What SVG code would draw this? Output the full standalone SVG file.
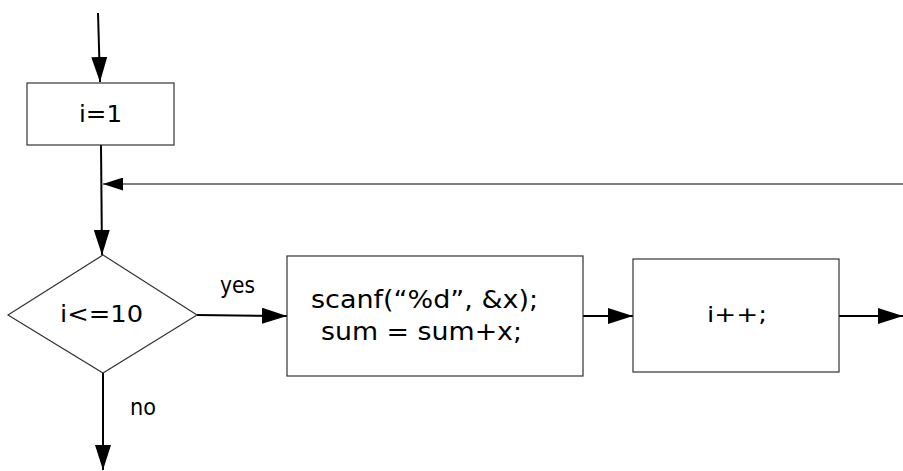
<svg xmlns="http://www.w3.org/2000/svg" width="903" height="471" viewBox="0 0 903 471">
<style>
.box{fill:#fff;stroke:#333;stroke-width:1.2}
.lbl{font-family:"DejaVu Sans","Liberation Sans",sans-serif;fill:#000}
.c{stroke:#000;stroke-width:2;fill:none;marker-end:url(#ah)}
.fb{stroke:#808080;stroke-width:2;fill:none;marker-end:url(#ahs)}
</style>
<defs>
<marker id="ah" markerUnits="userSpaceOnUse" markerWidth="25" markerHeight="16" refX="25" refY="8" orient="auto">
<path d="M0,0 L25,8 L0,16 z" fill="#000"/>
</marker>
<marker id="ahs" markerUnits="userSpaceOnUse" markerWidth="20" markerHeight="13" refX="20" refY="6.5" orient="auto">
<path d="M0,0 L20,6.5 L0,13 z" fill="#000"/>
</marker>
</defs>
<rect width="903" height="471" fill="#fff"/>
<g id="connectors">
<line class="c" x1="98" y1="13" x2="100" y2="82"/>
<line class="c" x1="101" y1="145" x2="102" y2="255"/>
<line class="fb" x1="903" y1="184" x2="103" y2="184"/>
<line class="c" x1="197" y1="315" x2="287" y2="316"/>
<line class="c" x1="103" y1="373" x2="103" y2="470"/>
<line class="c" x1="583" y1="316" x2="633" y2="316"/>
<line class="c" x1="839" y1="316" x2="903" y2="316"/>
<text class="lbl" x="220" y="293" font-size="23" textLength="35" lengthAdjust="spacingAndGlyphs">yes</text>
<text class="lbl" x="130" y="415" font-size="23" textLength="26" lengthAdjust="spacingAndGlyphs">no</text>
</g>
<g id="init">
<rect class="box" x="27" y="83" width="147" height="62"/>
<text class="lbl" x="79" y="122" font-size="23" textLength="43" lengthAdjust="spacingAndGlyphs">i=1</text>
</g>
<g id="cond">
<polygon class="box" points="103,255 197,315 103,373 8,315"/>
<text class="lbl" x="60" y="322" font-size="23" textLength="83" lengthAdjust="spacingAndGlyphs">i&lt;=10</text>
</g>
<g id="body">
<rect class="box" x="287" y="256" width="296" height="120"/>
<text class="lbl" x="311" y="308" font-size="24" textLength="227" lengthAdjust="spacingAndGlyphs">scanf(“%d”, &amp;x);</text>
<text class="lbl" x="321" y="340" font-size="24" textLength="201" lengthAdjust="spacingAndGlyphs">sum = sum+x;</text>
</g>
<g id="incr">
<rect class="box" x="633" y="259" width="206" height="113"/>
<text class="lbl" x="707" y="322" font-size="22" textLength="60" lengthAdjust="spacingAndGlyphs">i++;</text>
</g>
</svg>
